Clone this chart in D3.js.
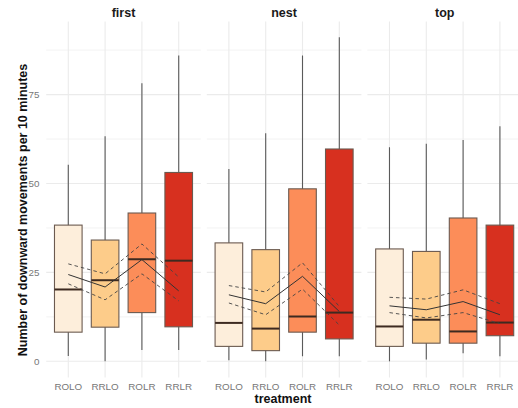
<!DOCTYPE html>
<html><head><meta charset="utf-8">
<script src="https://cdn.jsdelivr.net/npm/d3@7"></script>
<style>body{margin:0;background:#fff}svg{display:block}</style>
</head><body>
<script>
const facets = ["first", "nest", "top"];
const treatments = ["ROLO", "RRLO", "ROLR", "RRLR"];
const colors = ["#fdeedb", "#fdcc8a", "#fc8d59", "#d7301f"];
const yTicks = [0, 25, 50, 75];
// box stats per facet, in treatment order
const whiskerLow = [[1.5, 0, 3.2, 3.2], [0.3, 0, 1.4, 1.4], [0, 0.5, 2.3, 1.4]];
const q1 = [[8.2, 9.6, 13.7, 9.7], [4.2, 3.0, 8.2, 6.3], [4.2, 5.1, 5.1, 7.2]];
const median = [[20.2, 22.8, 28.7, 28.3], [10.8, 9.2, 12.6, 13.7], [9.8, 11.7, 8.4, 10.9]];
const q3 = [[38.3, 34.1, 41.7, 53.1], [33.3, 31.4, 48.5, 59.7], [31.6, 30.9, 40.3, 38.3]];
const whiskerHigh = [[55.3, 63.3, 78.2, 86.0], [54.1, 64.1, 86.0, 91.1], [60.2, 61.2, 62.2, 66.1]];
// mean and confidence band lines
const meanVal = [[24.4, 20.9, 28.6, 19.8], [18.7, 16.2, 23.9, 14.0], [15.6, 14.5, 16.8, 13.1]];
const upperVal = [[27.4, 24.6, 33.0, 23.7], [21.3, 19.5, 27.7, 15.4], [18.0, 17.5, 20.1, 16.2]];
const lowerVal = [[21.8, 17.3, 24.6, 17.0], [16.4, 13.1, 20.3, 10.2], [13.7, 12.2, 13.7, 10.6]];

const W = 518, H = 408;
const svg = d3.select("body").append("svg").attr("width", W).attr("height", H)
  .style("font-family", "'Liberation Sans', Arial, sans-serif");

const panelTop = 21.5, panelBottom = 377.5;
const panelW = 154.6, panelLefts = [46.2, 206.8, 367.4];
const y = d3.scaleLinear().domain([-4.55, 95.55]).range([panelBottom, panelTop]);
const minorTicks = [12.5, 37.5, 62.5, 87.5];
const gridCol = "#ebebeb";

facets.forEach((f, fi) => {
  const left = panelLefts[fi];
  const x = d3.scalePoint().domain(treatments).range([left, left + panelW]).padding(0.6);
  const step = x.step();
  const bw = step * 0.75;
  const g = svg.append("g");
  // grid
  g.selectAll(".minor").data(minorTicks).join("line")
    .attr("x1", left).attr("x2", left + panelW)
    .attr("y1", d => y(d)).attr("y2", d => y(d))
    .attr("stroke", gridCol).attr("stroke-width", 0.6);
  g.selectAll(".major").data(yTicks).join("line")
    .attr("x1", left).attr("x2", left + panelW)
    .attr("y1", d => y(d)).attr("y2", d => y(d))
    .attr("stroke", gridCol).attr("stroke-width", 1.1);
  g.selectAll(".vgrid").data(treatments).join("line")
    .attr("x1", d => x(d)).attr("x2", d => x(d))
    .attr("y1", panelTop).attr("y2", panelBottom)
    .attr("stroke", gridCol).attr("stroke-width", 1.1);

  const rows = treatments.map((t, i) => ({
    t, i, lo: whiskerLow[fi][i], q1: q1[fi][i], med: median[fi][i],
    q3: q3[fi][i], hi: whiskerHigh[fi][i]
  }));
  // whiskers
  g.selectAll(".wh").data(rows).join("line")
    .attr("x1", d => x(d.t)).attr("x2", d => x(d.t))
    .attr("y1", d => y(d.hi)).attr("y2", d => y(d.lo))
    .attr("stroke", "#5a5a5a").attr("stroke-width", 1.1);
  // boxes
  g.selectAll(".box").data(rows).join("rect")
    .attr("x", d => x(d.t) - bw / 2).attr("width", bw)
    .attr("y", d => y(d.q3)).attr("height", d => y(d.q1) - y(d.q3))
    .attr("fill", d => colors[d.i]).attr("stroke", "#6b5a50").attr("stroke-width", 1.1);
  g.selectAll(".med").data(rows).join("line")
    .attr("x1", d => x(d.t) - bw / 2).attr("x2", d => x(d.t) + bw / 2)
    .attr("y1", d => y(d.med)).attr("y2", d => y(d.med))
    .attr("stroke", "#3d2a20").attr("stroke-width", 2);

  const line = d3.line().x((d, i) => x(treatments[i])).y(d => y(d));
  g.append("path").attr("d", line(upperVal[fi])).attr("fill", "none")
    .attr("stroke", "#444").attr("stroke-width", 0.9).attr("stroke-dasharray", "3.5,3");
  g.append("path").attr("d", line(lowerVal[fi])).attr("fill", "none")
    .attr("stroke", "#444").attr("stroke-width", 0.9).attr("stroke-dasharray", "3.5,3");
  g.append("path").attr("d", line(meanVal[fi])).attr("fill", "none")
    .attr("stroke", "#333").attr("stroke-width", 1);

  // strip title
  svg.append("text").attr("x", left + panelW / 2).attr("y", 17)
    .attr("text-anchor", "middle").attr("font-weight", "bold").attr("font-size", 12.5)
    .attr("fill", "#1a1a1a").text(f);
  // x tick labels
  g.selectAll(".xl").data(treatments).join("text")
    .attr("x", d => x(d)).attr("y", 390).attr("text-anchor", "middle")
    .attr("font-size", 9.8).attr("fill", "#777").text(d => d);
});

// y tick labels
svg.selectAll(".yl").data(yTicks).join("text")
  .attr("x", 39.5).attr("y", d => y(d) + 3.5).attr("text-anchor", "end")
  .attr("font-size", 9.8).attr("fill", "#777").text(d => d);

// axis titles
svg.append("text").attr("x", W / 2 + 24).attr("y", 403).attr("text-anchor", "middle")
  .attr("font-weight", "bold").attr("font-size", 12.5).attr("fill", "#111").text("treatment");
svg.append("text").attr("transform", "translate(27,210) rotate(-90)")
  .attr("text-anchor", "middle").attr("font-weight", "bold").attr("font-size", 12.5)
  .attr("fill", "#111").text("Number of downward movements per 10 minutes");
</script>
</body></html>
